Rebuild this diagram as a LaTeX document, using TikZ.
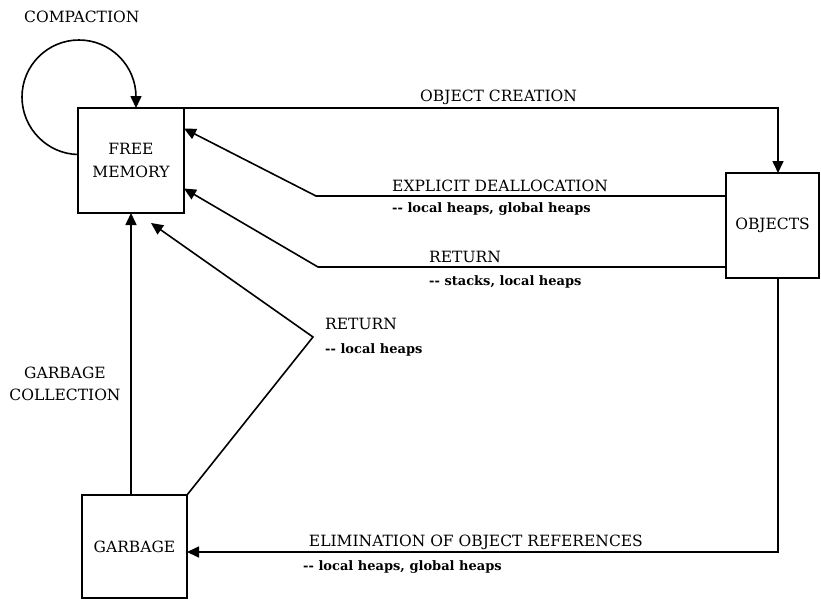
\documentclass[tikz,border=0pt]{standalone}
\usepackage{fontspec}
\setmainfont{DejaVu Serif}
\usetikzlibrary{arrows.meta}
\begin{document}
\begin{tikzpicture}[x=1pt,y=-1pt,
  every node/.style={font=\fontsize{15.5}{23}\selectfont},
  box/.style={draw, line width=1.6pt, minimum width=106pt, minimum height=105pt,
    inner sep=0pt, outer sep=0pt, align=center},
  link/.style={line width=1.6pt},
  flow/.style={link, -{Triangle[length=12pt,width=11pt]}},
  lbl/.style={anchor=base west, inner sep=0pt, font=\fontsize{15.5}{18}\selectfont},
  sub/.style={anchor=base west, inner sep=0pt, font=\bfseries\fontsize{13}{15}\selectfont}]
\path[use as bounding box] (0,0) rectangle (821,600);

% the three states
\node[box] (fm) at (131,160.5) {FREE\\MEMORY};
\node[box, minimum width=93pt] (obj) at (772.5,225.5) {OBJECTS};
\node[box, minimum width=105pt, minimum height=103pt] (gb) at (134.5,546.5) {GARBAGE};

% bend points of the transitions
\coordinate (loopR) at (136,97);
\coordinate (ocCorner) at (778,108);
\coordinate (edBend) at (316,196);
\coordinate (rtBend) at (318,267);
\coordinate (rvBend) at (313,337);
\coordinate (elCorner) at (778,552);

% transitions
\draw[flow] ([yshift=6pt]fm.west) .. controls (47.5,154) and (22,128.5) .. (22,97)
  .. controls (22,65.5) and (47.5,40) .. (79,40)
  .. controls (110.5,40) and (136,65.5) .. (loopR) -- (loopR |- fm.north);
\draw[flow] (fm.north east) -- (ocCorner) -- (ocCorner |- obj.north);
\draw[flow] (edBend -| obj.west) -- (edBend) -- ([yshift=32pt]fm.east);
\draw[flow] (rtBend -| obj.west) -- (rtBend) -- ([yshift=-28pt]fm.east);
\draw[flow] (gb.north east) -- (rvBend) -- ([xshift=20pt,yshift=-10pt]fm.south);
\draw[flow] (fm.south |- gb.north) -- (fm.south);
\draw[flow] (elCorner |- obj.south) -- (elCorner) -- (elCorner -| gb.east);

% labels
\node[lbl] (lComp) at (24,22) {COMPACTION};
\node[lbl] (lOC) at (420,101) {OBJECT CREATION};
\node[lbl] (lED) at (392,191) {EXPLICIT DEALLOCATION};
\node[sub] (sED) at (392,212) {-{}- local heaps, global heaps};
\node[lbl] (lRT) at (429,262) {RETURN};
\node[sub] (sRT) at (429,285) {-{}- stacks, local heaps};
\node[lbl] (lRV) at (325,329) {RETURN};
\node[sub] (sRV) at (325,353) {-{}- local heaps};
\node[align=center, font=\fontsize{15.5}{22}\selectfont] (lGC) at (65,384) {GARBAGE\\COLLECTION};
\node[lbl, anchor=base east] (lEL) at (643,546) {ELIMINATION OF OBJECT REFERENCES};
\node[sub] (sEL) at (303,570) {-{}- local heaps, global heaps};
\end{tikzpicture}
\end{document}
